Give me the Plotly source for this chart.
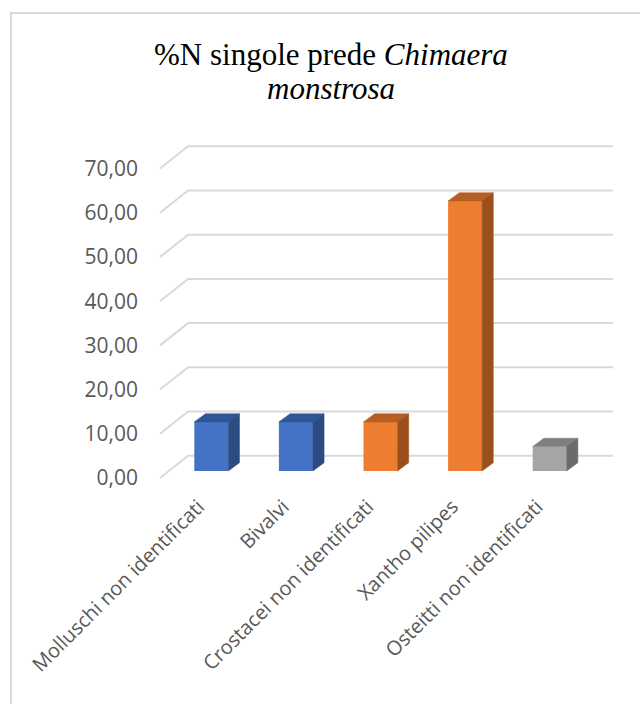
import plotly.graph_objects as go

# Prey categories and their share (%N) in the diet
categories = [
    "Molluschi non identificati",
    "Bivalvi",
    "Crostacei non identificati",
    "Xantho pilipes",
    "Osteitti non identificati",
]
values = [11.11, 11.11, 11.11, 61.11, 5.56]
groups = ["mollusca", "mollusca", "crustacea", "crustacea", "osteichthyes"]
y_ticks = [0, 10, 20, 30, 40, 50, 60, 70]

# face colours: front, top, side
palette = {
    "mollusca": ("#4472C4", "#2F5597", "#2B4B82"),
    "crustacea": ("#ED7D31", "#B65E23", "#9A4F1D"),
    "osteichthyes": ("#A5A5A5", "#7F7F7F", "#6B6B6B"),
}

# pseudo-3D geometry (axis units)
BAR_W = 0.402
DEPTH_X = 0.132
DEPTH_Y = 1.85
FLOOR_FRONT = -1.58
FLOOR_BACK = 3.46
WALL_LEFT_FRONT = -0.6064
WALL_LEFT_BACK = -0.2742
WALL_RIGHT = 4.7482
LABEL_SHIFT = -0.15

fig = go.Figure()

# grid: front diagonal + back-wall line for each tick, kept under the columns
grid_shapes = []
for t in y_ticks:
    grid_shapes.append(dict(
        type="path", xref="x", yref="y", layer="below",
        path=(f"M{WALL_LEFT_FRONT},{t + FLOOR_FRONT} "
              f"L{WALL_LEFT_BACK},{t + FLOOR_BACK} "
              f"L{WALL_RIGHT},{t + FLOOR_BACK}"),
        line=dict(color="#D9D9D9", width=2)))

# front faces
fig.add_trace(go.Bar(
    x=list(range(len(categories))), y=values, width=BAR_W,
    marker=dict(color=[palette[g][0] for g in groups], line=dict(width=0)),
    hovertext=categories, showlegend=False))

# top and side faces of each column
for i, (v, g) in enumerate(zip(values, groups)):
    front, top, side = palette[g]
    x0, x1 = i - BAR_W / 2, i + BAR_W / 2
    fig.add_trace(go.Scatter(
        x=[x0, x1, x1 + DEPTH_X, x0 + DEPTH_X, x0],
        y=[v, v, v + DEPTH_Y, v + DEPTH_Y, v],
        mode="lines", fill="toself", fillcolor=top,
        line=dict(color=top, width=0.5), hoverinfo="skip", showlegend=False))
    fig.add_trace(go.Scatter(
        x=[x1, x1 + DEPTH_X, x1 + DEPTH_X, x1, x1],
        y=[0, DEPTH_Y, v + DEPTH_Y, v, 0],
        mode="lines", fill="toself", fillcolor=side,
        line=dict(color=side, width=0.5), hoverinfo="skip", showlegend=False))

border = dict(type="rect", xref="paper", yref="paper",
              x0=-0.2896, x1=1.2, y0=-0.8, y1=1.325,
              line=dict(color="#D9D9D9", width=2), layer="below")

title_font = dict(family="'Liberation Serif', 'DejaVu Serif', 'Times New Roman', serif",
                  size=31, color="black")

fig.update_layout(
    width=640, height=704,
    margin=dict(l=150, r=10, t=130, b=214),
    paper_bgcolor="white", plot_bgcolor="white",
    showlegend=False,
    font=dict(family="Open Sans", color="#595959", size=20),
    xaxis=dict(
        range=[-0.7246, 4.9492], showgrid=False, zeroline=False,
        showline=False, ticks="",
        tickvals=[i + LABEL_SHIFT for i in range(len(categories))],
        ticktext=categories,
        tickangle=-45, tickfont=dict(size=20, color="#595959"),
    ),
    yaxis=dict(
        range=[-4.299, 77.149], showgrid=False, zeroline=False,
        showline=False, ticks="",
        tickvals=[t + FLOOR_FRONT for t in y_ticks],
        ticktext=[f"{t:.2f}".replace(".", ",") for t in y_ticks],
        tickfont=dict(size=21, color="#595959"),
        ticklabelstandoff=11,
    ),
    shapes=[border] + grid_shapes,
    annotations=[
        dict(text="%N singole prede <i>Chimaera</i>", xref="paper", yref="paper",
             x=0.377, y=1.2111, xanchor="center", yanchor="middle",
             showarrow=False, font=title_font),
        dict(text="<i>monstrosa</i>", xref="paper", yref="paper",
             x=0.377, y=1.1139, xanchor="center", yanchor="middle",
             showarrow=False, font=title_font),
    ],
)

fig.write_html("out.html")
